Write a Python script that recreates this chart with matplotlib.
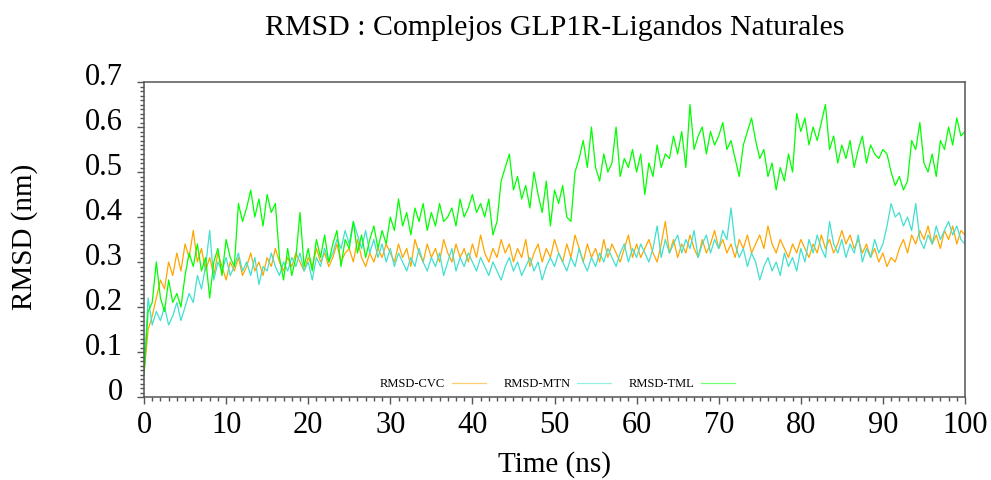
import numpy as np
import matplotlib
matplotlib.use("Agg")
import matplotlib.pyplot as plt
import matplotlib.transforms as mtransforms
from matplotlib.ticker import MultipleLocator

# RMSD values (nm), one value every 0.5 ns from 0 to 100 ns
rmsd_cvc = [
    0.05, 0.15, 0.18, 0.22, 0.26, 0.24, 0.30, 0.27, 0.32, 0.28,
    0.34, 0.31, 0.37, 0.30, 0.33, 0.28, 0.31, 0.27, 0.32, 0.29,
    0.26, 0.30, 0.28, 0.31, 0.27, 0.29, 0.32, 0.28, 0.30, 0.27,
    0.31, 0.29, 0.33, 0.30, 0.28, 0.31, 0.29, 0.32, 0.30, 0.28,
    0.31, 0.29, 0.33, 0.30, 0.32, 0.29, 0.31, 0.34, 0.30, 0.32,
    0.33, 0.30, 0.35, 0.31, 0.29, 0.32, 0.30, 0.33, 0.31, 0.34,
    0.32, 0.30, 0.34, 0.31, 0.33, 0.29, 0.35, 0.32, 0.30, 0.34,
    0.31, 0.33, 0.30, 0.35, 0.32, 0.30, 0.34, 0.31, 0.33, 0.30,
    0.34, 0.31, 0.36, 0.32, 0.30, 0.33, 0.31, 0.35, 0.32, 0.34,
    0.30, 0.33, 0.31, 0.35, 0.29, 0.32, 0.34, 0.30, 0.33, 0.31,
    0.35, 0.32, 0.30, 0.34, 0.31, 0.36, 0.33, 0.30, 0.34, 0.31,
    0.33, 0.30, 0.35, 0.31, 0.34, 0.32, 0.30, 0.33, 0.36, 0.31,
    0.34, 0.31, 0.33, 0.35, 0.32, 0.30, 0.34, 0.39, 0.32, 0.35,
    0.31, 0.34, 0.32, 0.36, 0.33, 0.31, 0.35, 0.32, 0.34, 0.37,
    0.33, 0.35, 0.32, 0.34, 0.31, 0.35, 0.33, 0.36, 0.32, 0.34,
    0.36, 0.33, 0.38, 0.34, 0.32, 0.35, 0.33, 0.31, 0.34, 0.32,
    0.35, 0.33, 0.31, 0.34, 0.32, 0.36, 0.33, 0.35, 0.32, 0.34,
    0.37, 0.34, 0.36, 0.33, 0.35, 0.32, 0.34, 0.31, 0.33, 0.30,
    0.32, 0.29, 0.31, 0.30, 0.33, 0.35, 0.32, 0.36, 0.34, 0.37,
    0.35, 0.38, 0.34, 0.36, 0.33, 0.37, 0.35, 0.38, 0.34, 0.37,
    0.36,
]

rmsd_mtn = [
    0.05, 0.22, 0.16, 0.19, 0.17, 0.20, 0.16, 0.18, 0.21, 0.17,
    0.20, 0.23, 0.21, 0.27, 0.24, 0.29, 0.37, 0.26, 0.30, 0.28,
    0.31, 0.27, 0.29, 0.32, 0.28, 0.30, 0.27, 0.31, 0.25, 0.29,
    0.28, 0.32, 0.29, 0.27, 0.30, 0.28, 0.31, 0.29, 0.32, 0.28,
    0.30, 0.26, 0.31, 0.29, 0.33, 0.30, 0.32, 0.35, 0.33, 0.37,
    0.34, 0.39, 0.36, 0.33, 0.37, 0.32, 0.35, 0.31, 0.34, 0.30,
    0.33, 0.29, 0.32, 0.30, 0.28, 0.31, 0.29, 0.33, 0.30, 0.28,
    0.31, 0.29, 0.32, 0.27, 0.30, 0.33, 0.28, 0.31, 0.29, 0.32,
    0.30, 0.28, 0.31, 0.29, 0.27, 0.30, 0.28, 0.26, 0.29, 0.31,
    0.28, 0.30, 0.27, 0.29, 0.31, 0.28, 0.30, 0.26, 0.29, 0.31,
    0.29, 0.32, 0.30, 0.28, 0.31, 0.29, 0.33, 0.30, 0.28, 0.31,
    0.29, 0.32, 0.30, 0.33, 0.31, 0.29, 0.32, 0.34, 0.30, 0.33,
    0.31, 0.34, 0.32, 0.30, 0.33, 0.38, 0.31, 0.35, 0.32, 0.34,
    0.36, 0.32, 0.35, 0.33, 0.37, 0.31, 0.34, 0.36, 0.32, 0.35,
    0.33, 0.37, 0.35, 0.42, 0.34, 0.31, 0.33, 0.29, 0.32, 0.30,
    0.26, 0.29, 0.31, 0.28, 0.30, 0.27, 0.32, 0.29, 0.31, 0.28,
    0.33, 0.30, 0.35, 0.32, 0.36, 0.33, 0.31, 0.39, 0.34, 0.32,
    0.35, 0.31, 0.34, 0.32, 0.36, 0.30, 0.33, 0.31, 0.35, 0.32,
    0.34, 0.38, 0.43, 0.40, 0.41, 0.38, 0.40, 0.37, 0.43, 0.35,
    0.33, 0.36, 0.34, 0.38, 0.35, 0.37, 0.39, 0.36, 0.38, 0.35,
    0.34,
]

rmsd_tml = [
    0.05, 0.19, 0.21, 0.30, 0.22, 0.19, 0.26, 0.21, 0.23, 0.20,
    0.27, 0.32, 0.29, 0.34, 0.28, 0.31, 0.22, 0.30, 0.33, 0.27,
    0.35, 0.31, 0.29, 0.43, 0.39, 0.42, 0.46, 0.40, 0.44, 0.38,
    0.45, 0.41, 0.43, 0.31, 0.26, 0.33, 0.27, 0.31, 0.41, 0.29,
    0.33, 0.28, 0.35, 0.31, 0.36, 0.30, 0.34, 0.37, 0.29, 0.35,
    0.33, 0.39, 0.32, 0.36, 0.31, 0.35, 0.38, 0.33, 0.37, 0.34,
    0.40, 0.37, 0.44, 0.38, 0.41, 0.36, 0.42, 0.39, 0.43, 0.37,
    0.41, 0.38, 0.43, 0.39, 0.40, 0.42, 0.38, 0.44, 0.40, 0.42,
    0.45, 0.41, 0.43, 0.40, 0.44, 0.36, 0.39, 0.48, 0.51, 0.54,
    0.46, 0.49, 0.44, 0.47, 0.42, 0.50, 0.45, 0.41, 0.48, 0.38,
    0.46, 0.43, 0.47, 0.40, 0.39, 0.50, 0.53, 0.57, 0.51, 0.60,
    0.51, 0.48, 0.54, 0.50, 0.52, 0.60, 0.49, 0.53, 0.51, 0.55,
    0.50, 0.54, 0.45, 0.52, 0.49, 0.56, 0.51, 0.54, 0.53, 0.58,
    0.54, 0.59, 0.51, 0.65, 0.55, 0.58, 0.60, 0.54, 0.59, 0.56,
    0.58, 0.61, 0.55, 0.57, 0.53, 0.49, 0.56, 0.59, 0.62, 0.57,
    0.53, 0.55, 0.49, 0.52, 0.46, 0.51, 0.48, 0.54, 0.50, 0.63,
    0.59, 0.62, 0.56, 0.60, 0.57, 0.61, 0.65, 0.55, 0.58, 0.52,
    0.56, 0.53, 0.57, 0.51, 0.55, 0.58, 0.52, 0.56, 0.54, 0.53,
    0.55, 0.54, 0.50, 0.47, 0.49, 0.46, 0.48, 0.57, 0.55, 0.61,
    0.52, 0.50, 0.54, 0.49, 0.57, 0.55, 0.60, 0.56, 0.62, 0.58,
    0.59,
]

labels = ["RMSD-CVC", "RMSD-MTN", "RMSD-TML"]
colors = ["#FFA500", "#40E0D0", "#00FF00"]
time_step = 0.5
time_ns = np.arange(len(rmsd_cvc)) * time_step

plt.rcParams['font.family'] = ['Liberation Serif', 'DejaVu Serif']
frame_color = "#555555"

fig = plt.figure(figsize=(9.91, 4.80), dpi=100)
ax = fig.add_axes([144 / 991, 1 - 397 / 480, 821 / 991, 315 / 480])

for series, lab, col in zip([rmsd_cvc, rmsd_mtn, rmsd_tml], labels, colors):
    ax.plot(time_ns, series, color=col, lw=0.9, label=lab)

ax.set_xlim(0, 100)
ax.set_ylim(0, 0.7)
ax.xaxis.set_major_locator(MultipleLocator(10))
ax.xaxis.set_minor_locator(MultipleLocator(1))
ax.yaxis.set_major_locator(MultipleLocator(0.1))
ax.yaxis.set_minor_locator(MultipleLocator(0.01))
ax.yaxis.set_major_formatter(plt.FuncFormatter(lambda v, p: "0" if abs(v) < 1e-9 else f"{v:.1f}"))

for s in ax.spines.values():
    s.set_color(frame_color)
    s.set_linewidth(1.1)
ax.tick_params(which='both', direction='out', top=False, right=False,
               color=frame_color, width=1.0)
ax.tick_params(which='major', length=5, labelsize=22)
ax.tick_params(which='minor', length=3)
ax.tick_params(axis='y', which='major', pad=10)
ax.tick_params(axis='x', which='major', pad=5)

# labels on the y axis sit a little above their ticks
offset = mtransforms.ScaledTranslation(0, 8 / 100, fig.dpi_scale_trans)
for lbl in ax.get_yticklabels():
    lbl.set_transform(lbl.get_transform() + offset)

fig.text(555 / 991, 1 - 35 / 480, "RMSD : Complejos GLP1R-Ligandos Naturales",
         ha='center', va='baseline', fontsize=21.5)
fig.text(555 / 991, 1 - 472 / 480, "Time (ns)", ha='center', va='baseline', fontsize=21)
fig.text(25 / 991, 1 - 237 / 480, "RMSD (nm)", ha='center', va='center',
         rotation=90, fontsize=21)

leg = ax.legend(loc='center', bbox_to_anchor=(0.5037, 0.041), ncol=3, frameon=False,
                fontsize=9, markerfirst=False, handlelength=2.7, handletextpad=0.55,
                columnspacing=1.4)
for h in leg.get_lines():
    h.set_alpha(0.55)

fig.savefig("out.png", dpi=100)
